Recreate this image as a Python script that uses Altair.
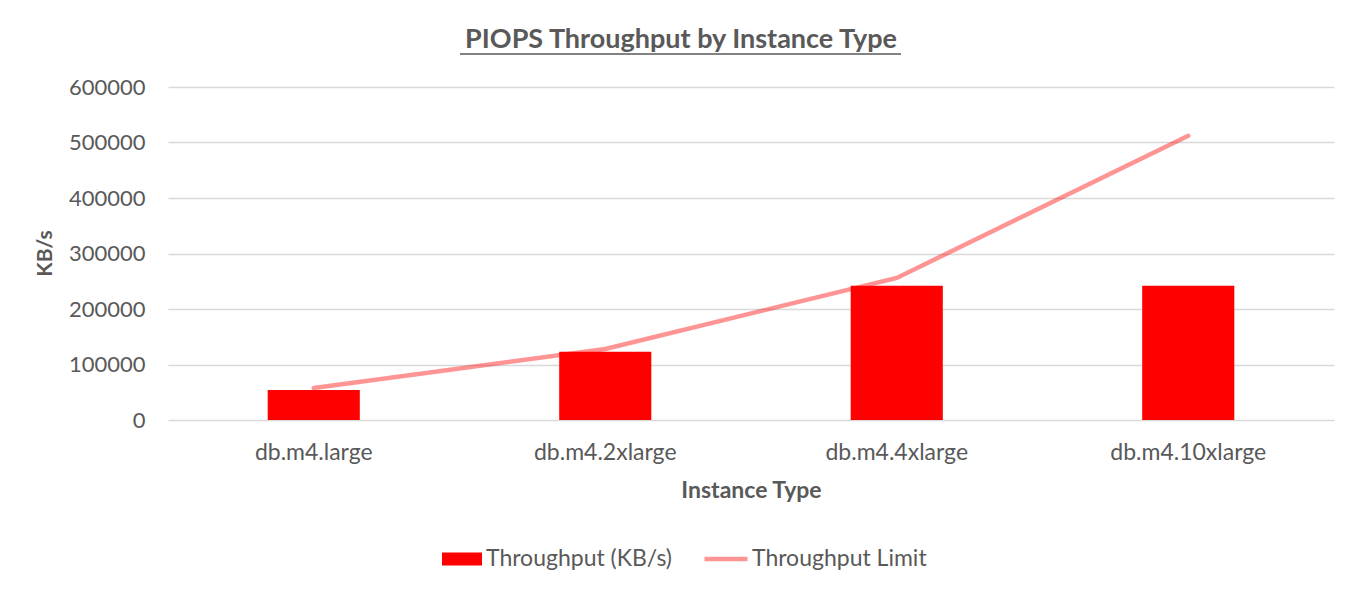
import altair as alt
import pandas as pd

categories = ["db.m4.large", "db.m4.2xlarge", "db.m4.4xlarge", "db.m4.10xlarge"]
throughput = [54000, 123000, 242000, 242000]
limit = [57600, 128000, 256000, 512000]
y_ticks = [0, 100000, 200000, 300000, 400000, 500000, 600000]

bar_name = "Throughput (KB/s)"
line_name = "Throughput Limit"

bars_df = pd.DataFrame({"cat": categories, "val": throughput, "series": [bar_name] * 4})
line_df = pd.DataFrame({"cat": categories, "val": limit, "series": [line_name] * 4})

FONT = "Lato"
GREY = "#595959"

x_enc = alt.X(
    "cat:N",
    sort=categories,
    scale=alt.Scale(paddingInner=0.684, paddingOuter=0.342),
    axis=alt.Axis(
        title="Instance Type",
        labelAngle=0,
        ticks=False,
        domain=False,
        labelPadding=21,
        labelFontSize=23,
        titleFontSize=23,
        titleFontWeight="bold",
        titleY=70,
        titleBaseline="middle",
    ),
)
y_enc = alt.Y(
    "val:Q",
    scale=alt.Scale(domain=[0, 600000], nice=False),
    axis=alt.Axis(
        title="KB/s",
        values=y_ticks,
        format="d",
        ticks=False,
        domain=False,
        labelPadding=23,
        labelFontSize=22,
        titleFontSize=21,
        titleFontWeight="bold",
        titleX=-123,
        titleY=166,
        titleBaseline="middle",
        gridColor="#D9D9D9",
        gridWidth=1.3,
    ),
)

bars = alt.Chart(bars_df).mark_bar().encode(
    x=x_enc,
    y=y_enc,
    color=alt.Color(
        "series:N",
        scale=alt.Scale(domain=[bar_name], range=["#FF0000"]),
        legend=alt.Legend(
            title=None,
            orient="none",
            legendX=274,
            legendY=452,
            symbolType="M-1,-0.325L1,-0.325L1,0.325L-1,0.325Z",
            symbolSize=1600,
            symbolStrokeWidth=0,
            labelOffset=4,
            labelFontSize=23,
            labelLimit=400,
            labelFont=FONT,
            labelColor=GREY,
        ),
    ),
)

line = alt.Chart(line_df).mark_line(strokeWidth=4.5, strokeCap="round", opacity=0.42).encode(
    x=x_enc,
    y=y_enc,
    stroke=alt.Stroke(
        "series:N",
        scale=alt.Scale(domain=[line_name], range=["#FF0000"]),
        legend=alt.Legend(
            title=None,
            orient="none",
            legendX=534,
            legendY=448,
            symbolType="stroke",
            symbolSize=1849,
            symbolStrokeWidth=4.5,
            symbolOpacity=0.42,
            labelOffset=2,
            labelFontSize=23,
            labelLimit=400,
            labelFont=FONT,
            labelColor=GREY,
        ),
    ),
)

underline = alt.Chart(alt.Data(values=[{"u": 1}])).mark_rule(color=GREY, strokeWidth=1.5).encode(
    x=alt.value(292), x2=alt.value(733), y=alt.value(-33)
)

chart = (
    alt.layer(bars, line, underline)
    .properties(
        width=1166,
        height=333,
        padding={"left": 160, "top": 79, "right": 21, "bottom": 171},
        autosize=alt.AutoSizeParams(type="none"),
        background="white",
        title=alt.TitleParams(
            "PIOPS Throughput by Instance Type",
            font=FONT,
            fontSize=27,
            fontWeight="bold",
            color=GREY,
            anchor="middle",
            dx=-70,
            dy=22,
            offset=21,
        ),
    )
    .resolve_scale(color="independent", stroke="independent")
    .configure_view(strokeWidth=0)
    .configure_axis(
        labelFont=FONT,
        titleFont=FONT,
        labelColor=GREY,
        titleColor=GREY,
    )
)

chart.save("out.html", embed_options={"renderer": "svg", "actions": False})
